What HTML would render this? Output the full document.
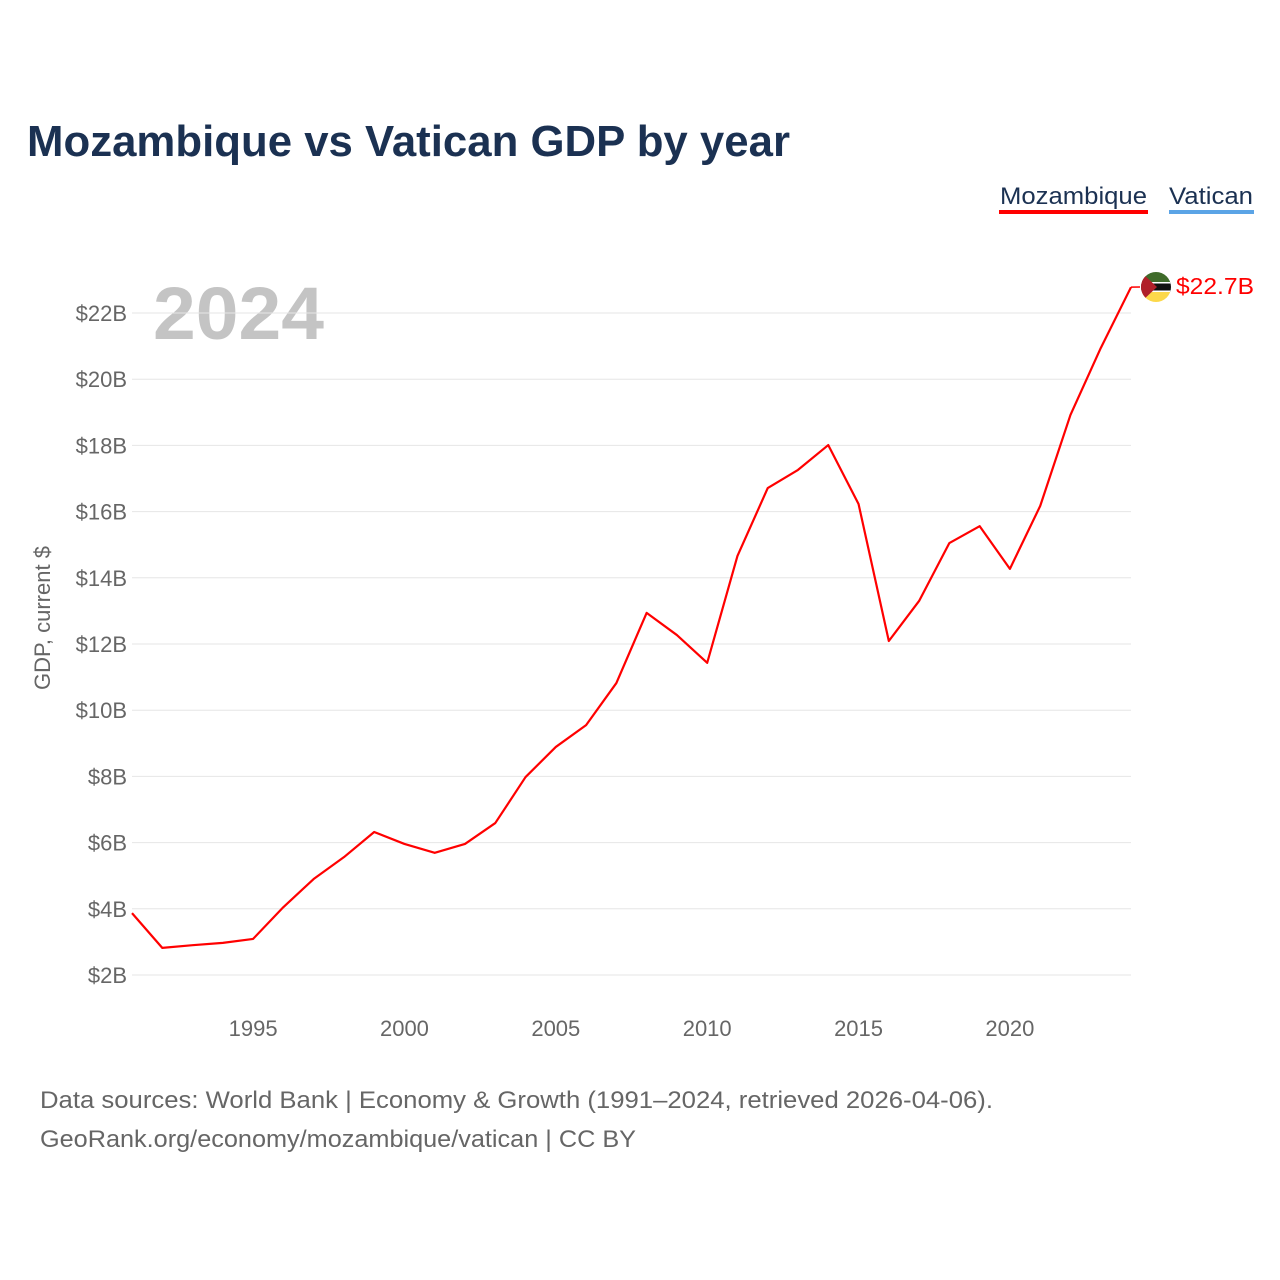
<!DOCTYPE html>
<html><head><meta charset="utf-8"><style>
body{margin:0;background:#fff;font-family:"Liberation Sans",sans-serif;}
#wrap{position:relative;width:1280px;height:1280px;overflow:hidden;}
</style></head><body>
<div id="wrap">
<svg id="chart" width="1280" height="1280" xmlns="http://www.w3.org/2000/svg">
<text x="27" y="156" font-size="44" font-weight="bold" fill="#1b3152" textLength="763" lengthAdjust="spacingAndGlyphs">Mozambique vs Vatican GDP by year</text>
<g><text x="1000" y="204" font-size="24" fill="#1b3152" textLength="147" lengthAdjust="spacingAndGlyphs">Mozambique</text><rect x="999" y="210" width="149" height="4" fill="#ff0000"/></g>
<g><text x="1169" y="204" font-size="24" fill="#1b3152" textLength="84" lengthAdjust="spacingAndGlyphs">Vatican</text><rect x="1169" y="210" width="85" height="4" fill="#5ba4e6"/></g>
<text x="153" y="339" font-size="74" font-weight="bold" fill="#c4c4c4" textLength="171" lengthAdjust="spacingAndGlyphs">2024</text>
<text transform="translate(50,618) rotate(-90)" text-anchor="middle" font-size="22" fill="#666">GDP, current $</text>
<g id="grid"></g><g id="yt"></g><g id="xt"></g><g id="series"></g>
<text x="40" y="1108" font-size="24" fill="#666" textLength="953" lengthAdjust="spacingAndGlyphs">Data sources: World Bank | Economy &amp; Growth (1991–2024, retrieved 2026-04-06).</text>
<text x="40" y="1147" font-size="24" fill="#666" textLength="596" lengthAdjust="spacingAndGlyphs">GeoRank.org/economy/mozambique/vatican | CC BY</text>
<defs><clipPath id="fc"><circle cx="1156" cy="287" r="15"/></clipPath></defs>
</svg></div>
<script>
const years=[1991,1992,1993,1994,1995,1996,1997,1998,1999,2000,2001,2002,2003,2004,2005,2006,2007,2008,2009,2010,2011,2012,2013,2014,2015,2016,2017,2018,2019,2020,2021,2022,2023,2024];
const mozambique=[3.87,2.82,2.9,2.97,3.09,4.05,4.9,5.56,6.32,5.96,5.69,5.96,6.59,7.98,8.89,9.55,10.82,12.94,12.27,11.43,14.66,16.71,17.26,18.01,16.23,12.09,13.3,15.05,15.56,14.27,16.17,18.92,20.94,22.78];
const yTicks=[2,4,6,8,10,12,14,16,18,20,22];
const xTicks=[1995,2000,2005,2010,2015,2020];
const NS="http://www.w3.org/2000/svg";
const X=v=>132+(v-1991)*(1131-132)/33;
const Y=v=>975-(v-2)*(975-313)/20;
function mk(t,a,p){const e=document.createElementNS(NS,t);for(const k in a)e.setAttribute(k,a[k]);p.appendChild(e);return e;}
const grid=document.getElementById('grid'),yt=document.getElementById('yt'),xt=document.getElementById('xt'),ser=document.getElementById('series');
yTicks.forEach(v=>{
 const l=mk('line',{x1:132,x2:1131,y1:Y(v),y2:Y(v),stroke:'#e6e6e6','stroke-width':1},grid);
 
 
 const t=mk('text',{x:127,y:Y(v)+8,'text-anchor':'end','font-size':22,fill:'#666'},yt);
 t.textContent='$'+v+'B';
 
 
});
xTicks.forEach(v=>{
 const t=mk('text',{x:X(v),y:1036,'text-anchor':'middle','font-size':22,fill:'#666'},xt);
 t.textContent=v;
 
 
});
const p=mk('polyline',{points:years.map((y,i)=>X(y)+','+Y(mozambique[i])).join(' '),fill:'none',stroke:'#ff0000','stroke-width':2.2,'stroke-linejoin':'round'},ser);


const last=mozambique.length-1,lx=X(years[last]),ly=Y(mozambique[last]);
const fx=1156,fy=287;
const g=mk('g',{},ser);


mk('line',{x1:lx,y1:ly,x2:fx-16,y2:fy,stroke:'#ff0000','stroke-width':1.5},g);
const fg=mk('g',{'clip-path':'url(#fc)'},g);
mk('rect',{x:fx-15,y:fy-15,width:30,height:10,fill:'#3f6b2a'},fg);
mk('rect',{x:fx-15,y:fy-5,width:30,height:10,fill:'#111'},fg);
mk('rect',{x:fx-15,y:fy-5,width:30,height:1.5,fill:'#fff'},fg);
mk('rect',{x:fx-15,y:fy+3.5,width:30,height:1.5,fill:'#fff'},fg);
mk('rect',{x:fx-15,y:fy+5,width:30,height:10,fill:'#fcd84a'},fg);
mk('polygon',{points:(fx-15)+','+(fy-15)+' '+(fx+1)+','+fy+' '+(fx-15)+','+(fy+15),fill:'#b0202a'},fg);
const lab=mk('text',{x:fx+20,y:fy+7,'font-size':23,fill:'#ff0000',textLength:78,lengthAdjust:'spacingAndGlyphs'},g);
lab.textContent='$22.7B';


</script>
</body></html>
